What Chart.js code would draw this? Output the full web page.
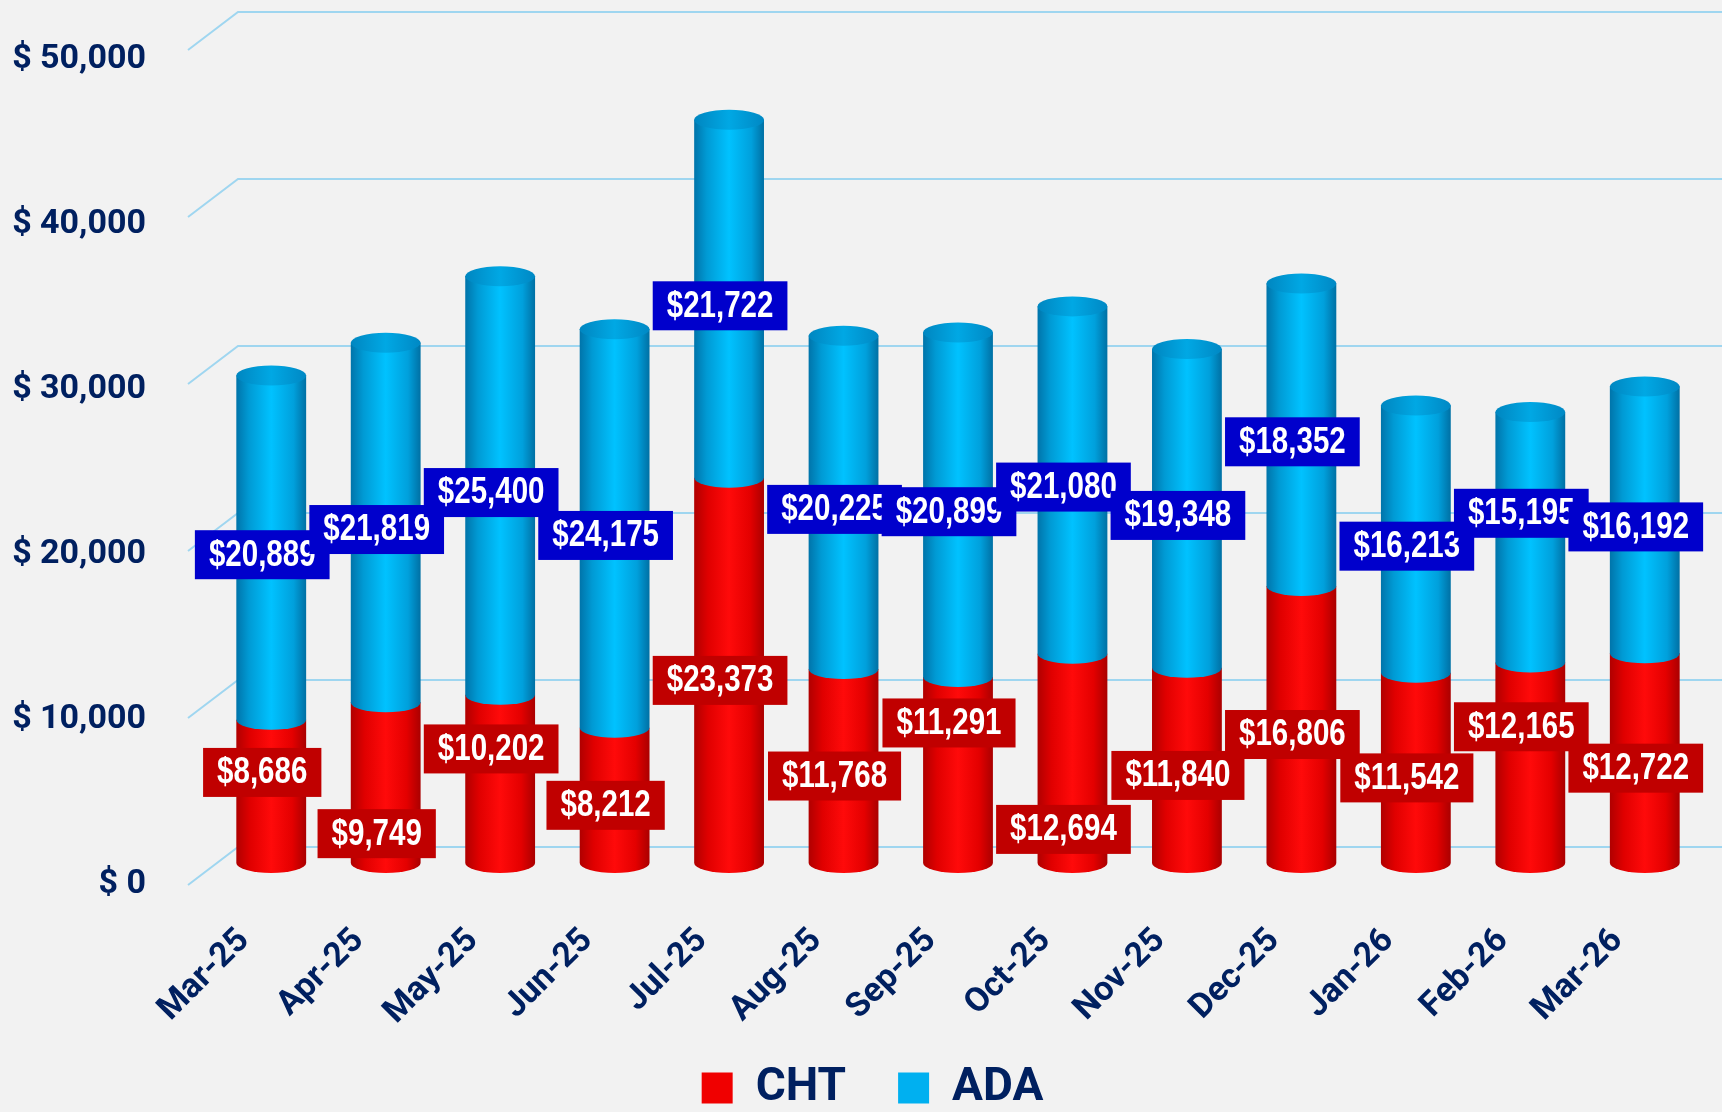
<!DOCTYPE html>
<html>
<head>
<meta charset="utf-8">
<title>CHT / ADA by month</title>
<script src="https://cdn.jsdelivr.net/npm/chart.js@4.4.1/dist/chart.umd.min.js"></script>
<style>
    html, body { margin: 0; padding: 0; background: #f2f2f2; }
    #wrap { width: 1722px; height: 1112px; position: relative; }
</style>
</head>
<body>
<div id="wrap"><canvas id="chart"></canvas></div>
<script>
// Data
const months = ["Mar-25", "Apr-25", "May-25", "Jun-25", "Jul-25", "Aug-25", "Sep-25",
                "Oct-25", "Nov-25", "Dec-25", "Jan-26", "Feb-26", "Mar-26"];
const chtValues = [8686, 9749, 10202, 8212, 23373, 11768, 11291, 12694, 11840, 16806, 11542, 12165, 12722];
const adaValues = [20889, 21819, 25400, 24175, 21722, 20225, 20899, 21080, 19348, 18352, 16213, 15195, 16192];
const yTicks = [0, 10000, 20000, 30000, 40000, 50000];

// Label nudges (px) where the original moved labels apart to avoid collisions
const chtLabelNudge = [-29, 41, -40, 0, 0, 0, -57, 61, 0, 0, 0, -46, 0];
const adaLabelNudge = [0, 0, 0, 0, 0, 0, 0, 0, 0, 0, 0, -31, 0];

const AXIS_FONT = "Roboto, 'Liberation Sans', sans-serif";
const LABEL_FONT = "bold 36px 'Liberation Sans', Arial, sans-serif";
const NARROW = 0.82; // squeeze to look like Arial Narrow
const NAVY = "#002060";
const CAP_RY = 10;

const money = v => "$" + v.toLocaleString("en-US");

// Cylinder body: rectangle + rounded bottom
function bodyPath(ctx, x, w, top, bottom) {
    ctx.beginPath();
    ctx.moveTo(x - w / 2, top);
    ctx.lineTo(x - w / 2, bottom);
    ctx.ellipse(x, bottom, w / 2, CAP_RY, 0, Math.PI, 0, true);
    ctx.lineTo(x + w / 2, top);
    ctx.closePath();
}

function sideGradient(ctx, x, w, stops) {
    const g = ctx.createLinearGradient(x - w / 2, 0, x + w / 2, 0);
    stops.forEach(s => g.addColorStop(s[0], s[1]));
    return g;
}

const redStops = [[0, "#b00000"], [0.2, "#e00000"], [0.5, "#ff0a0a"], [0.8, "#e40000"], [1, "#aa0000"]];
const blueStops = [[0, "#0074aa"], [0.18, "#009ad4"], [0.5, "#00c2ff"], [0.82, "#00a0dc"], [1, "#0070a4"]];
const capStops = [[0, "#0086c0"], [0.5, "#00a8e4"], [1, "#0088c4"]];

function drawLabel(ctx, text, cx, cy, bg) {
    ctx.font = LABEL_FONT;
    const w = ctx.measureText(text).width * NARROW + 28;
    ctx.fillStyle = bg;
    ctx.fillRect(cx - w / 2, cy - 24.5, w, 49);
    ctx.save();
    ctx.translate(cx, cy + 1);
    ctx.scale(NARROW, 1);
    ctx.fillStyle = "#ffffff";
    ctx.textAlign = "center";
    ctx.textBaseline = "middle";
    ctx.fillText(text, 0, 0);
    ctx.restore();
}

const cylinders = {
    id: "cylinders",
    afterLayout(chart) {
        // let the rotated / wide tick labels spill outside their axis boxes
        Object.values(chart.scales).forEach(s => { s._computeLabelArea = () => undefined; });
    },
    beforeDatasetsDraw(chart) {
        const { ctx, chartArea, scales: { y } } = chart;
        const topTick = yTicks[yTicks.length - 1];
        ctx.save();

        // 3D-looking grid: floor edge + back wall lines
        ctx.strokeStyle = "#9fd6f0";
        ctx.lineWidth = 2;
        yTicks.forEach(v => {
            const by = y.getPixelForValue(v) - 16 - 11 * v / topTick;
            const bx = chartArea.left + 24;
            ctx.beginPath();
            ctx.moveTo(bx - 50, by + 38);
            ctx.lineTo(bx, by);
            ctx.lineTo(chart.width, by);
            ctx.stroke();
        });

        const cht = chart.getDatasetMeta(0).data;
        const ada = chart.getDatasetMeta(1).data;
        months.forEach((m, i) => {
            const r = cht[i], b = ada[i];
            const w = r.width;
            // red part
            bodyPath(ctx, r.x, w, r.y, r.base);
            ctx.fillStyle = sideGradient(ctx, r.x, w, redStops);
            ctx.fill();
            // blue part sits on top of the red one
            bodyPath(ctx, b.x, w, b.y, b.base);
            ctx.fillStyle = sideGradient(ctx, b.x, w, blueStops);
            ctx.fill();
            // top cap
            ctx.beginPath();
            ctx.ellipse(b.x, b.y, w / 2, CAP_RY, 0, 0, Math.PI * 2);
            ctx.fillStyle = sideGradient(ctx, b.x, w, capStops);
            ctx.fill();
        });
        ctx.restore();
        return false;
    },
    afterDraw(chart) {
        const { ctx } = chart;
        const cht = chart.getDatasetMeta(0).data;
        const ada = chart.getDatasetMeta(1).data;
        ctx.save();
        cht.forEach((el, i) => {
            drawLabel(ctx, money(chtValues[i]), el.x - 9, (el.y + el.base) / 2 + 10 + chtLabelNudge[i], "#c00000");
        });
        ada.forEach((el, i) => {
            drawLabel(ctx, money(adaValues[i]), el.x - 9, (el.y + el.base) / 2 + 7 + adaLabelNudge[i], "#0000cc");
        });
        ctx.restore();
    }
};

new Chart(document.getElementById("chart"), {
    type: "bar",
    data: {
        labels: months,
        datasets: [
            { label: "CHT", data: chtValues, backgroundColor: "#f00000", borderWidth: 0 },
            { label: "ADA", data: adaValues, backgroundColor: "#00b0f0", borderWidth: 0 }
        ]
    },
    options: {
        responsive: true,
        maintainAspectRatio: false,
        animation: false,
        datasets: { bar: { barPercentage: 0.61, categoryPercentage: 1 } },
        layout: { padding: { top: 6, left: 43, right: 20, bottom: -9 } },
        plugins: {
            tooltip: { enabled: false },
            legend: {
                position: "bottom",
                labels: {
                    boxWidth: 31,
                    boxHeight: 31,
                    padding: 52,
                    color: NAVY,
                    font: { family: AXIS_FONT, size: 46, weight: "bold" }
                }
            }
        },
        scales: {
            x: {
                stacked: true,
                grid: { display: false, drawTicks: false },
                border: { display: false },
                afterFit: s => { s.height = 150; s.paddingLeft = 0; s.paddingRight = 0; },
                ticks: {
                    minRotation: 45,
                    maxRotation: 45,
                    padding: 58,
                    labelOffset: -27,
                    color: NAVY,
                    font: { family: AXIS_FONT, size: 34, weight: "bold" }
                }
            },
            y: {
                stacked: true,
                min: 0,
                max: 52000,
                grid: { display: false, drawTicks: false },
                border: { display: false },
                afterBuildTicks: s => { s.ticks = yTicks.map(v => ({ value: v })); },
                afterFit: s => { s.width = 171; s.paddingTop = 0; s.paddingBottom = 0; },
                ticks: {
                    padding: 68,
                    labelOffset: 21,
                    color: NAVY,
                    font: { family: AXIS_FONT, size: 34, weight: "bold" },
                    callback: v => "$ " + v.toLocaleString("en-US")
                }
            }
        }
    },
    plugins: [cylinders]
});
</script>
</body>
</html>
